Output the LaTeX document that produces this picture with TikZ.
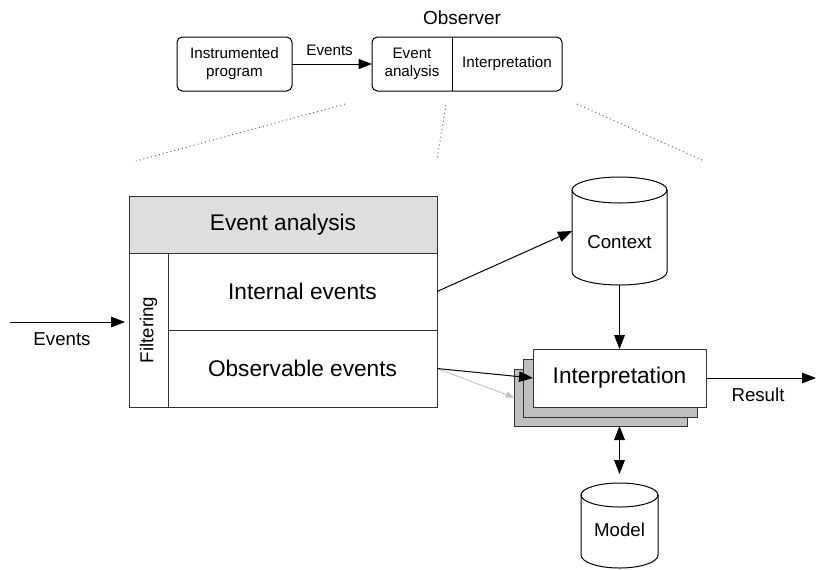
\documentclass[tikz,border=0pt]{standalone}
\usepackage{fontspec}
\setmainfont{Liberation Sans}
\usetikzlibrary{arrows.meta}
\begin{document}
\begin{tikzpicture}[x=0.75pt,y=-0.75pt,
  every node/.style={inner sep=0pt, outer sep=0pt},
  frame/.style={draw=black!80, line width=0.75pt},
  bigtxt/.style={font=\fontsize{17}{20}\selectfont},
  midtxt/.style={font=\fontsize{14}{16}\selectfont},
  smalltxt/.style={font=\fontsize{11.4}{13.5}\selectfont, align=center},
  conn/.style={line width=0.75pt, -{Triangle[length=10.5pt,width=8pt]}},
  topconn/.style={line width=0.75pt, -{Triangle[length=10pt,width=7.5pt]}},
  greyconn/.style={line width=0.6pt, draw=black!25, -{Triangle[length=6pt,width=4.5pt]}, fill=black!25},
  dotline/.style={draw=black!60, line width=0.75pt, dash pattern=on 0.75pt off 2.25pt},
  stackcard/.style={frame, fill=black!25!green!3!gray!50, minimum width=129.75pt, minimum height=42.75pt},
]
\useasboundingbox (0,0) rectangle (816,569);

% ---------- top overview ----------
\node[smalltxt, draw, line width=0.75pt, rounded corners=4pt, minimum width=86.25pt, minimum height=40.5pt] (prog) at (234.5,64) {Instrumented\\program};
\node[draw, line width=0.75pt, rounded corners=4pt, minimum width=142.5pt, minimum height=40.5pt] (obs) at (467,64) {};
\node[smalltxt] (obsea) at (412,64) {Event\\analysis};
\node[smalltxt] (obsint) at (507,64) {Interpretation};
\draw[line width=0.75pt] (obs.north -| 452,0) -- (obs.south -| 452,0);
\node[font=\fontsize{14.2}{16}\selectfont] (obstitle) at (462,18) {Observer};
\draw[topconn] (prog.east) -- (obs.west) node[pos=0.47, above=6pt, font=\fontsize{11.4}{13.5}\selectfont] {Events};

% ---------- dotted zoom lines ----------
\coordinate (d1a) at (345,104); \coordinate (d1b) at (136,161);
\coordinate (d2a) at (446,105); \coordinate (d2b) at (437,160);
\coordinate (d3a) at (577,104); \coordinate (d3b) at (704,161);
\draw[dotline] (d1a) -- (d1b);
\draw[dotline] (d2a) -- (d2b);
\draw[dotline] (d3a) -- (d3b);

% ---------- event analysis block ----------
\node[frame, fill=black!13, bigtxt, minimum width=231pt, minimum height=42.75pt] (ea) at (283,224.5) {Event analysis};
\node[frame, bigtxt, minimum width=201.75pt, minimum height=57.75pt] (ie) at (302.5,291.5) {Internal events};
\node[frame, bigtxt, minimum width=201.75pt, minimum height=57.75pt] (oe) at (302.5,368.5) {Observable events};
\node[frame, midtxt, rotate=90, minimum width=115.5pt, minimum height=29.25pt] (filt) at (148.5,330) {Filtering};

\coordinate (evin) at (10,322);
\draw[conn] (evin) -- ([xshift=-3pt]evin -| ea.west);
\node[midtxt] (evlbl) at (62,339) {Events};

% ---------- interpretation stack ----------
\node[stackcard] (back3) at (600.5,397.5) {};
\node[stackcard, minimum width=130.5pt, minimum height=43.5pt] (back2) at (610,388) {};
\node[frame, fill=white, bigtxt, minimum width=129.75pt, minimum height=43.5pt] (interp) at (619.5,378) {Interpretation};

% ---------- Context cylinder ----------
\node[minimum width=71.25pt, minimum height=81pt] (ctx) at (619.5,231) {};
\draw[line width=0.75pt, fill=white] (572,190) -- (572,272) arc[start angle=180, end angle=0, x radius=47.5, y radius=13] -- (667,190);
\draw[line width=0.75pt] (619.5,190) ellipse[x radius=47.5, y radius=13];
\node[midtxt] (ctxlbl) at (619.5,242) {Context};

% ---------- Model cylinder ----------
\node[minimum width=57.75pt, minimum height=63.75pt] (model) at (619.5,525.5) {};
\draw[line width=0.75pt, fill=white] (581,495) -- (581,555) arc[start angle=180, end angle=0, x radius=38.5, y radius=13] -- (658,495);
\draw[line width=0.75pt] (619.5,495) ellipse[x radius=38.5, y radius=12];
\node[midtxt] (modellbl) at (619.5,530) {Model};

% ---------- connectors ----------
\draw[conn] (ie.east) -- (ctx.west);
\draw[conn] (ctx.south) -- (interp.north);
\draw[greyconn] (oe.east) -- (back3.west);
\draw[conn] (oe.east) -- (interp.west);
\coordinate (resend) at (816,378);
\draw[conn] (interp.east) -- (resend);
\node[midtxt] (reslbl) at (758,395) {Result};
\draw[line width=0.75pt, {Triangle[length=10.5pt,width=8pt]}-{Triangle[length=10.5pt,width=8pt]}, shorten >=6.75pt] (interp.south |- back3.south) -- (model.north);
\end{tikzpicture}
\end{document}
